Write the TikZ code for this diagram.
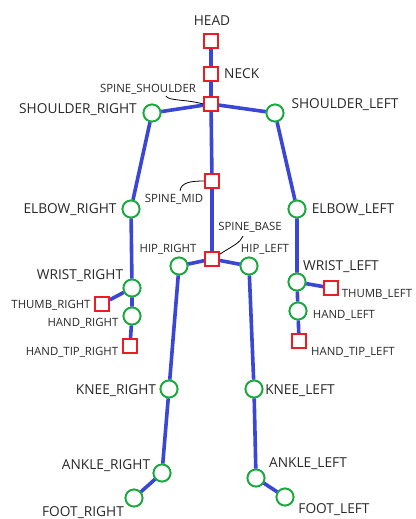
\documentclass[tikz,border=0pt]{standalone}
\usepackage{fontspec}
\setmainfont{Open Sans}
\definecolor{bone}{RGB}{58,70,214}
\definecolor{jgreen}{RGB}{24,170,60}
\definecolor{jred}{RGB}{236,28,36}
\definecolor{txt}{RGB}{40,40,40}
\begin{document}
\begin{tikzpicture}[x=1pt,y=-1pt,
  jc/.style={circle,draw=jgreen,fill=white,line width=1.8pt,minimum size=17pt,inner sep=0pt},
  js/.style={rectangle,draw=jred,fill=white,line width=1.6pt,minimum size=14pt,inner sep=0pt},
  bonel/.style={draw=bone,line width=3.6pt},
  big/.style={text=txt,font=\fontsize{13.7}{15}\selectfont,inner sep=0pt},
  small/.style={text=txt,font=\fontsize{11.4}{13}\selectfont,inner sep=0pt},
  leader/.style={draw=black,line width=0.8pt}]
\useasboundingbox (0,0) rectangle (415,519);
% joints
\node[js] (hd) at (211,41) {};
\node[js] (nk) at (211,74) {};
\node[js] (ss) at (211,104) {};
\node[js] (sm) at (212,181) {};
\node[js] (sb) at (212,259) {};
\node[jc] (shr) at (152,113) {};
\node[jc] (shl) at (275,113) {};
\node[jc] (elr) at (131,209) {};
\node[jc] (ell) at (297,209) {};
\node[jc] (wrr) at (132,288) {};
\node[jc] (wrl) at (297,282) {};
\node[js] (thr) at (102,304) {};
\node[js] (thl) at (331,288) {};
\node[jc] (har) at (132,316) {};
\node[jc] (hal) at (298,311) {};
\node[js] (htr) at (130,346) {};
\node[js] (htl) at (299,341) {};
\node[jc] (hir) at (179,266) {};
\node[jc] (hil) at (249,266) {};
\node[jc] (knr) at (169,389) {};
\node[jc] (knl) at (254,389) {};
\node[jc] (anr) at (162,473) {};
\node[jc] (anl) at (256,478) {};
\node[jc] (ftr) at (134,498) {};
\node[jc] (ftl) at (285,497) {};
% bones
\path[bonel] (hd) -- (nk) (nk) -- (ss) (ss) -- (sm) (sm) -- (sb)
  (ss) -- (shr) (ss) -- (shl)
  (shr) -- (elr) (elr) -- (wrr) (wrr) -- (har) (har) -- (htr) (wrr) -- (thr)
  (shl) -- (ell) (ell) -- (wrl) (wrl) -- (hal) (hal) -- (htl) (wrl) -- (thl)
  (sb) -- (hir) (sb) -- (hil)
  (hir) -- (knr) (knr) -- (anr) (anr) -- (ftr)
  (hil) -- (knl) (knl) -- (anl) (anl) -- (ftl);
% redraw joints on top
\foreach \n/\s in {hd/js,nk/js,ss/js,sm/js,sb/js,thr/js,thl/js,htr/js,htl/js,
  shr/jc,shl/jc,elr/jc,ell/jc,wrr/jc,wrl/jc,har/jc,hal/jc,hir/jc,hil/jc,knr/jc,knl/jc,anr/jc,anl/jc,ftr/jc,ftl/jc}
  \node[\s] at (\n) {};
% labels
\node[big] (lhd) at (212,21) {HEAD};
\node[big,anchor=west] (lnk) at (224,74) {NECK};
\node[small] (lss) at (148,89) {SPINE\_SHOULDER};
\node[big] (lshr) at (78,110) {SHOULDER\_RIGHT};
\node[big] (lshl) at (345,105) {SHOULDER\_LEFT};
\node[small] (lsm) at (174,199) {SPINE\_MID};
\node[big] (lelr) at (70,210) {ELBOW\_RIGHT};
\node[big] (lell) at (353,210) {ELBOW\_LEFT};
\node[small] (lsb) at (250,227) {SPINE\_BASE};
\node[small] (lhir) at (168,249) {HIP\_RIGHT};
\node[small] (lhil) at (265,249) {HIP\_LEFT};
\node[big] (lwrr) at (80,276) {WRIST\_RIGHT};
\node[small] (lthr) at (51,305) {THUMB\_RIGHT};
\node[small] (lhar) at (83,323) {HAND\_RIGHT};
\node[small] (lhtr) at (72,352) {HAND\_TIP\_RIGHT};
\node[big] (lwrl) at (341,267) {WRIST\_LEFT};
\node[small] (lthl) at (377,294) {THUMB\_LEFT};
\node[small] (lhal) at (344,315) {HAND\_LEFT};
\node[small] (lhtl) at (353,352) {HAND\_TIP\_LEFT};
\node[big] (lknr) at (116,391) {KNEE\_RIGHT};
\node[big] (lknl) at (300,391) {KNEE\_LEFT};
\node[big] (lanr) at (106,466) {ANKLE\_RIGHT};
\node[big] (lanl) at (308,464) {ANKLE\_LEFT};
\node[big,anchor=south] (lftr) at (83,518.5) {FOOT\_RIGHT};
\node[big] (lftl) at (334,510) {FOOT\_LEFT};
% leaders
\draw[leader] (166,96) .. controls (168,101) and (185,99) .. (ss.west);
\draw[leader] (180,191) .. controls (181,182) and (192,181) .. (sm.west);
\draw[leader] ([yshift=-3pt]sb.north east) .. controls (234,245) and (240,243) .. (243,236);
\end{tikzpicture}
\end{document}
